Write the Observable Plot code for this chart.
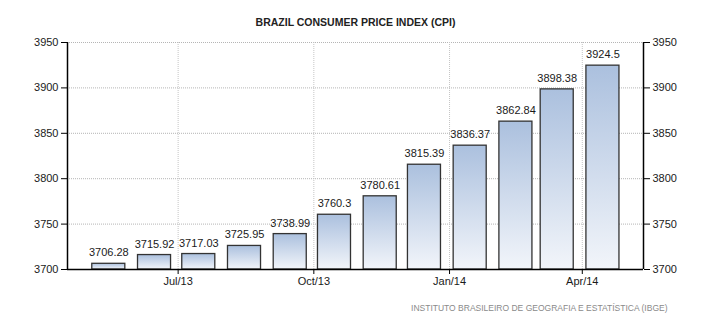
<!DOCTYPE html>
<html>
<head>
<meta charset="utf-8">
<script src="https://cdn.jsdelivr.net/npm/d3@7"></script>
<script src="https://cdn.jsdelivr.net/npm/@observablehq/plot@0.6"></script>
<style>
  html, body { margin: 0; padding: 0; background: #fff; }
</style>
</head>
<body>
<div id="chart"></div>
<script>
const months = ["2013-05-15","2013-06-15","2013-07-15","2013-08-15","2013-09-15","2013-10-15",
                "2013-11-15","2013-12-15","2014-01-15","2014-02-15","2014-03-15","2014-04-15"];
const values = [3706.28, 3715.92, 3717.03, 3725.95, 3738.99, 3760.3,
                3780.61, 3815.39, 3836.37, 3862.84, 3898.38, 3924.5];
const xTickDates = ["2013-07-01","2013-10-01","2014-01-01","2014-04-01"];
const xTickLabels = ["Jul/13","Oct/13","Jan/14","Apr/14"];
const yTicks = [3700, 3750, 3800, 3850, 3900, 3950];
const xDomain = ["2013-04-17T00:00Z", "2014-05-12T12:00Z"];
const yDomain = [3700, 3950];
const titleText = "BRAZIL CONSUMER PRICE INDEX (CPI)";
const sourceText = "INSTITUTO BRASILEIRO DE GEOGRAFIA E ESTATÍSTICA (IBGE)";

const DAY = 864e5;
const data = months.map((m, i) => ({date: new Date(m + "T00:00Z"), value: values[i]}));
const tickDates = xTickDates.map(d => new Date(d + "T00:00Z"));
const xd = xDomain.map(d => new Date(d));

function gradientDefs() {
  const ns = "http://www.w3.org/2000/svg";
  const defs = document.createElementNS(ns, "defs");
  const lg = document.createElementNS(ns, "linearGradient");
  lg.setAttribute("id", "barGrad");
  lg.setAttribute("x1", "0"); lg.setAttribute("y1", "0");
  lg.setAttribute("x2", "0"); lg.setAttribute("y2", "1");
  [["0%", "#abc0de"], ["100%", "#f2f5fa"]].forEach(([o, c]) => {
    const s = document.createElementNS(ns, "stop");
    s.setAttribute("offset", o); s.setAttribute("stop-color", c);
    lg.appendChild(s);
  });
  defs.appendChild(lg);
  return defs;
}

const chart = Plot.plot({
  width: 710,
  height: 325,
  marginTop: 42,
  marginBottom: 56,
  marginLeft: 67,
  marginRight: 67,
  style: {fontFamily: "'Liberation Sans', Arial, sans-serif", fontSize: "11px", color: "#1a1a1a", background: "#fff"},
  x: {type: "utc", domain: xd},
  y: {domain: yDomain},
  marks: [
    gradientDefs,
    Plot.gridY(yTicks.slice(1), {stroke: "#b5b5b5", strokeOpacity: 1, strokeDasharray: "1,1"}),
    Plot.gridX(tickDates, {stroke: "#c5c5c5", strokeOpacity: 1, strokeDasharray: "1,1"}),
    Plot.rect(data, {
      x1: d => new Date(+d.date - 11.2 * DAY),
      x2: d => new Date(+d.date + 11.2 * DAY),
      y1: yDomain[0],
      y2: "value",
      fill: "url(#barGrad)",
      stroke: "#333",
      strokeWidth: 1.3
    }),
    Plot.text(data, {x: "date", y: "value", text: d => String(d.value), dy: -11, fontSize: 11, fill: "#1a1a1a"}),
    Plot.ruleX([xd[0]], {stroke: "#000", strokeWidth: 1.5}),
    Plot.ruleX([xd[1]], {stroke: "#000", strokeWidth: 1.5}),
    Plot.ruleY([yDomain[0]], {stroke: "#000", strokeWidth: 1.5}),
    Plot.axisY(yTicks, {anchor: "left", tickSize: 6, tickPadding: 3, label: null, stroke: "#000", fontSize: 11, tickFormat: d => String(d)}),
    Plot.axisY(yTicks, {anchor: "right", tickSize: 6, tickPadding: 3, label: null, stroke: "#000", fontSize: 11, tickFormat: d => String(d)}),
    Plot.axisX(tickDates, {tickSize: 5, tickPadding: 3, label: null, stroke: "#000", fontSize: 11,
      tickFormat: (d, i) => xTickLabels[i]}),
    Plot.text([titleText], {frameAnchor: "top", dy: -24, fontSize: 10.5, fontWeight: "bold", fill: "#222"}),
    Plot.text([sourceText], {frameAnchor: "bottom-right", textAnchor: "end", dx: 24, dy: 41, fontSize: 8.5, fill: "#8a8a8a", style: "letter-spacing:0.9px"})
  ]
});
document.getElementById("chart").appendChild(chart);
</script>
</body>
</html>
